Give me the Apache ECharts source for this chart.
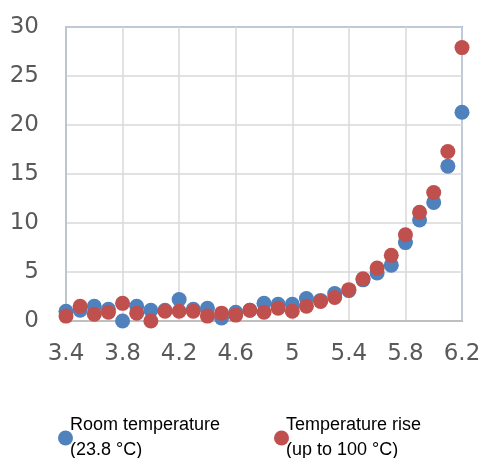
<!DOCTYPE html>
<html>
<head>
<meta charset="utf-8">
<script src="https://cdn.jsdelivr.net/npm/echarts@6/dist/echarts.min.js"></script>
<style>
  html, body { margin: 0; padding: 0; background: #fff; }
  #chart { width: 486px; height: 458px; }
</style>
</head>
<body>
<div id="chart"></div>
<script>
// x positions (0.1 steps)
var xValues = [3.4, 3.5, 3.6, 3.7, 3.8, 3.9, 4.0, 4.1, 4.2, 4.3, 4.4, 4.5, 4.6, 4.7, 4.8,
  4.9, 5.0, 5.1, 5.2, 5.3, 5.4, 5.5, 5.6, 5.7, 5.8, 5.9, 6.0, 6.1, 6.2]
var roomTemp = [1.0, 1.1, 1.5, 1.2, 0.0, 1.5, 1.1, 1.1, 2.2, 1.2, 1.3, 0.3, 0.9, 1.1, 1.8,
  1.7, 1.7, 2.3, 2.1, 2.8, 3.1, 4.2, 4.9, 5.7, 8.0, 10.3, 12.1, 15.8, 21.3]
var tempRise = [0.5, 1.5, 0.7, 0.9, 1.8, 0.8, 0.0, 1.0, 1.0, 1.0, 0.5, 0.8, 0.6, 1.1, 0.9,
  1.3, 1.0, 1.5, 2.0, 2.4, 3.2, 4.3, 5.4, 6.7, 8.8, 11.1, 13.1, 17.3, 27.9]
var seriesNames = ['Room temperature\n(23.8 °C)', 'Temperature rise\n(up to 100 °C)']
var X_MIN = 3.4
var X_MAX = 6.2

// axis ticks start at 3.4 with a 0.4 step, so the axis runs on offsets from X_MIN
function pairs(ys) {
  return xValues.map(function(x, i) {
    return [+(x - X_MIN).toFixed(2), ys[i]]
  })
}

var chart = echarts.init(document.getElementById('chart'))
var labelFont = { fontFamily: 'DejaVu Sans', fontSize: 23, color: '#595959' }
var legendText = {
  fontFamily: 'Liberation Sans',
  fontSize: 18,
  color: '#000',
  lineHeight: 25,
  padding: [0, 0, 0, -8]
}

chart.setOption({
  animation: false,
  grid: {
    left: 66,
    right: 24,
    top: 27,
    bottom: 137,
    show: true,
    borderColor: '#4f81bd',
    borderWidth: 1.5
  },
  legend: [{
    data: [seriesNames[0]],
    left: 53,
    top: 408,
    icon: 'circle',
    itemWidth: 15,
    itemHeight: 15,
    textStyle: legendText
  }, {
    data: [seriesNames[1]],
    left: 269,
    top: 408,
    icon: 'circle',
    itemWidth: 15,
    itemHeight: 15,
    textStyle: legendText
  }],
  xAxis: {
    type: 'value',
    min: 0,
    max: +(X_MAX - X_MIN).toFixed(2),
    interval: 0.4,
    axisLine: { show: true, lineStyle: { color: '#bfbfbf', width: 2 } },
    axisTick: { show: false },
    axisLabel: Object.assign({
      margin: 22,
      formatter: function(v) { return String(Number((v + X_MIN).toFixed(1))) }
    }, labelFont),
    splitLine: { show: true, lineStyle: { color: '#d9d9d9', width: 1.5 } }
  },
  yAxis: {
    type: 'value',
    min: 0,
    max: 30,
    interval: 5,
    axisLine: { show: true, lineStyle: { color: '#bfc5cc', width: 2 } },
    axisTick: { show: false },
    axisLabel: Object.assign({ margin: 27 }, labelFont),
    splitLine: { show: true, lineStyle: { color: '#d9d9d9', width: 1.5 } }
  },
  series: [{
    name: seriesNames[0],
    type: 'scatter',
    symbolSize: 15,
    clip: false,
    itemStyle: { color: '#4f81bd', opacity: 1 },
    data: pairs(roomTemp)
  }, {
    name: seriesNames[1],
    type: 'scatter',
    symbolSize: 15,
    clip: false,
    itemStyle: { color: '#c0504d', opacity: 1 },
    data: pairs(tempRise)
  }]
})
</script>
</body>
</html>
